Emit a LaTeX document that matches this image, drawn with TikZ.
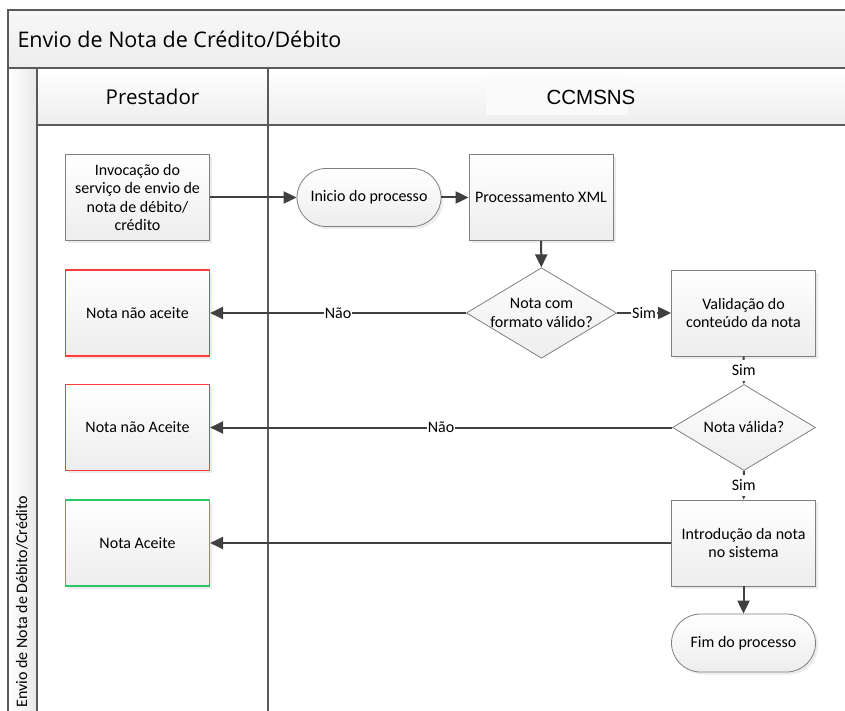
\documentclass[tikz,border=0pt]{standalone}
\usepackage{fontspec}
\setmainfont{Carlito}
\newfontfamily\headfont{Open Sans}
\newfontfamily\arialfont{Liberation Sans}
\usetikzlibrary{arrows.meta,shapes.geometric,shadows}
\definecolor{frame}{HTML}{5A5A5A}
\definecolor{wire}{HTML}{404040}
\definecolor{rim}{HTML}{808080}
\definecolor{nored}{HTML}{FF3C3C}
\definecolor{okgreen}{HTML}{2EC46A}
\begin{document}
\begin{tikzpicture}[x=1pt,y=-1pt,>={Triangle[length=13pt,width=12pt]},
  fig/.style={draw=rim,line width=.8pt,top color=white,bottom color=black!7,
    align=center,font=\fontsize{16}{18.5}\selectfont},
  box/.style={fig,minimum width=144pt,minimum height=86pt,
    drop shadow={shadow xshift=2.5pt,shadow yshift=-2.5pt,opacity=.08,fill=black}},
  term/.style={box,minimum height=58pt,rounded corners=29pt},
  dec/.style={fig,diamond,aspect=1.66,inner sep=0pt,minimum width=143pt,minimum height=86pt},
  nogo/.style={box,draw=nored,line width=1.1pt},
  go/.style={box,draw=okgreen,line width=1.1pt},
  wire/.style={->,draw=wire,line width=2pt},
  lbl/.style={fill=white,inner xsep=1pt,inner ysep=5pt,font=\fontsize{16}{18}\selectfont}]
\useasboundingbox (0,0) rectangle (845,711);
\clip (0,0) rectangle (845,711);
% pool and lanes
\fill[top color=black!3,bottom color=black!7] (8,10) rectangle (860,68);
\fill[top color=white,bottom color=black!7] (37,68) rectangle (860,125);
\fill[left color=white,right color=black!9] (8,68) rectangle (37,720);
\fill[black!2] (486,78) rectangle (628,115);
\draw[frame,line width=1.5pt] (860,10) -- (8,10) -- (8,720);
\draw[frame,line width=1.5pt] (8,68) -- (860,68) (37,125) -- (860,125)
  (37,68) -- (37,720) (268,68) -- (268,720);
\node[anchor=west,font=\headfont\fontsize{21.5}{24}\selectfont] (pool) at (14,39) {Envio de Nota de Crédito/Débito};
\node[rotate=90,anchor=west,font=\fontsize{16}{18}\selectfont] (side) at (22,711) {Envio de Nota de Débito/Crédito};
\node[font=\headfont\fontsize{20.5}{24}\selectfont] (lane1) at (152.5,97) {Prestador};
\node[font=\arialfont\fontsize{20.5}{24}\selectfont] (lane2) at (591,97) {CCMSNS};
% steps
\node[box] (inv) at (137.5,197.5) {Invocação do\\serviço de envio de\\nota de débito/\\crédito};
\node[term] (ini) at (369,197.5) {Inicio do processo};
\node[box] (proc) at (541,197.5) {Processamento XML};
\node[dec] (d1) at (541.5,313) {Nota com\\formato válido?};
\node[box] (val) at (743.5,313) {Validação do\\conteúdo da nota};
\node[dec] (d2) at (744,427.5) {Nota válida?};
\node[box] (intro) at (743.5,543) {Introdução da nota\\no sistema};
\node[term] (fim) at (743.5,643) {Fim do processo};
\node[nogo] (rej1) at (137.5,313) {Nota não aceite};
\node[nogo] (rej2) at (137.5,427.5) {Nota não Aceite};
\node[go] (ok) at (137.5,543) {Nota Aceite};
% connectors
\draw[wire] (inv) -- (ini);
\draw[wire] (ini) -- (proc);
\draw[wire] (proc) -- (d1);
\draw[wire] (d1) -- node[lbl]{Não} (rej1);
\draw[wire] (d1) -- node[lbl]{Sim} (val);
\draw[wire] (val) -- node[lbl]{Sim} (d2);
\draw[wire] (d2) -- node[lbl]{Não} (rej2);
\draw[wire] (d2) -- node[lbl]{Sim} (intro);
\draw[wire] (intro) -- (ok);
\draw[wire] (intro) -- (fim);
\end{tikzpicture}
\end{document}
